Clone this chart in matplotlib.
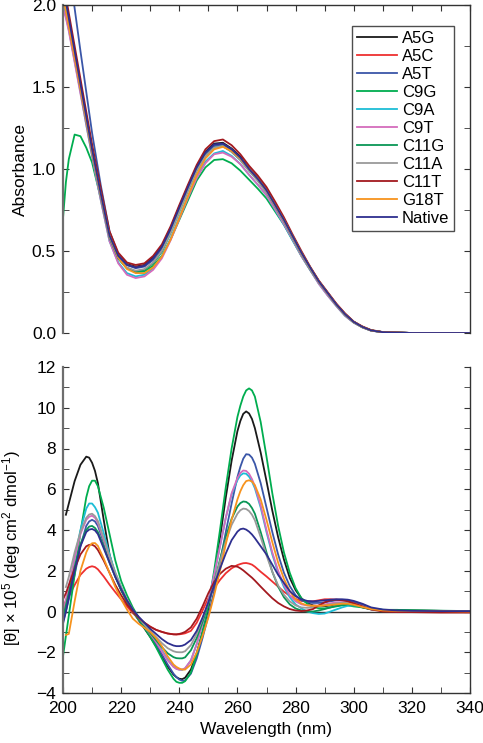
import numpy as np
import matplotlib
matplotlib.use("Agg")
import matplotlib.pyplot as plt
from matplotlib.ticker import MultipleLocator, FormatStrFormatter

plt.rcParams['font.family'] = ['Liberation Sans', 'DejaVu Sans']
plt.rcParams['mathtext.fontset'] = 'custom'
plt.rcParams['mathtext.rm'] = 'Liberation Sans'
plt.rcParams['mathtext.it'] = 'Liberation Sans:italic'

names = ['A5G', 'A5C', 'A5T', 'C9G', 'C9A', 'C9T', 'C11G', 'C11A', 'C11T', 'G18T', 'Native']
colors = ['#1a1a1a', '#ee3030', '#3a56a8', '#00ad4f', '#1cbdd6', '#d46cbc',
          '#0a9656', '#9a9a9a', '#a3191f', '#f7931e', '#2e2f8f']

# absorbance spectra
wl_abs = [200, 201, 202, 204, 206, 208, 210, 213, 216, 219, 222, 225, 228, 231, 234, 237, 240,
          243, 246, 249, 252, 255, 258, 261, 264, 267, 270, 273, 276, 279, 282, 285, 288, 291,
          294, 297, 300, 303, 306, 310, 320, 330, 340]

abs_A5G = [2.12, 2.02, 1.92, 1.72, 1.52, 1.32, 1.13, 0.86, 0.60, 0.475, 0.42, 0.405, 0.415, 0.46,
           0.53, 0.64, 0.77, 0.895, 1.015, 1.105, 1.155, 1.16, 1.125, 1.075, 1.005, 0.945, 0.875,
           0.785, 0.69, 0.59, 0.49, 0.40, 0.315, 0.245, 0.175, 0.115, 0.068, 0.037, 0.016, 0.005,
           0.0, 0.0, 0.0]
abs_A5C = [2.1, 2.0, 1.9, 1.71, 1.51, 1.31, 1.12, 0.85, 0.595, 0.47, 0.415, 0.40, 0.41, 0.45,
           0.52, 0.63, 0.76, 0.885, 1.005, 1.095, 1.145, 1.15, 1.115, 1.065, 1.0, 0.94, 0.87,
           0.78, 0.685, 0.585, 0.485, 0.395, 0.31, 0.24, 0.17, 0.11, 0.065, 0.035, 0.015, 0.005,
           0.0, 0.0, 0.0]
abs_A5T = [2.5, 2.38, 2.25, 1.98, 1.72, 1.47, 1.22, 0.9, 0.62, 0.48, 0.415, 0.395, 0.405, 0.445,
           0.515, 0.625, 0.755, 0.88, 1.0, 1.09, 1.14, 1.15, 1.12, 1.065, 1.0, 0.94, 0.87, 0.78,
           0.69, 0.59, 0.49, 0.40, 0.315, 0.245, 0.175, 0.115, 0.068, 0.037, 0.016, 0.005,
           0.0, 0.0, 0.0]
abs_C9G = [0.7, 0.92, 1.06, 1.21, 1.2, 1.13, 1.04, 0.82, 0.58, 0.455, 0.395, 0.37, 0.375, 0.41,
           0.47, 0.57, 0.69, 0.81, 0.93, 1.01, 1.055, 1.06, 1.035, 0.99, 0.935, 0.88, 0.82, 0.74,
           0.66, 0.565, 0.47, 0.385, 0.305, 0.235, 0.17, 0.11, 0.068, 0.037, 0.016, 0.005,
           0.0, 0.0, 0.0]
abs_C9A = [2.0, 1.93, 1.85, 1.66, 1.47, 1.27, 1.08, 0.81, 0.56, 0.43, 0.365, 0.345, 0.355, 0.395,
           0.465, 0.575, 0.705, 0.835, 0.955, 1.045, 1.095, 1.11, 1.08, 1.03, 0.965, 0.905, 0.84,
           0.75, 0.66, 0.565, 0.47, 0.385, 0.3, 0.23, 0.165, 0.105, 0.063, 0.034, 0.014, 0.005,
           0.0, 0.0, 0.0]
abs_C9T = [1.98, 1.92, 1.84, 1.65, 1.46, 1.27, 1.08, 0.81, 0.56, 0.425, 0.355, 0.335, 0.345,
           0.385, 0.455, 0.565, 0.695, 0.825, 0.945, 1.035, 1.09, 1.10, 1.075, 1.03, 0.965,
           0.905, 0.84, 0.755, 0.665, 0.57, 0.47, 0.385, 0.3, 0.23, 0.165, 0.105, 0.063, 0.034,
           0.014, 0.005, 0.0, 0.0, 0.0]
abs_C11G = [2.08, 1.98, 1.88, 1.69, 1.49, 1.29, 1.1, 0.83, 0.58, 0.455, 0.395, 0.375, 0.385,
            0.425, 0.495, 0.61, 0.74, 0.87, 0.99, 1.08, 1.13, 1.14, 1.105, 1.055, 0.99, 0.93,
            0.86, 0.77, 0.68, 0.58, 0.48, 0.39, 0.31, 0.24, 0.17, 0.11, 0.065, 0.035, 0.015,
            0.005, 0.0, 0.0, 0.0]
abs_C11A = [2.08, 1.98, 1.88, 1.69, 1.49, 1.29, 1.1, 0.83, 0.585, 0.46, 0.4, 0.38, 0.39, 0.43,
            0.5, 0.61, 0.74, 0.87, 0.99, 1.08, 1.13, 1.14, 1.105, 1.055, 0.99, 0.93, 0.86, 0.77,
            0.68, 0.58, 0.48, 0.39, 0.31, 0.24, 0.17, 0.11, 0.065, 0.035, 0.015, 0.005,
            0.0, 0.0, 0.0]
abs_C11T = [2.15, 2.05, 1.95, 1.75, 1.55, 1.35, 1.15, 0.88, 0.62, 0.49, 0.43, 0.415, 0.425, 0.47,
            0.54, 0.65, 0.78, 0.905, 1.025, 1.12, 1.17, 1.18, 1.145, 1.09, 1.02, 0.96, 0.89, 0.80,
            0.705, 0.60, 0.50, 0.405, 0.32, 0.25, 0.18, 0.12, 0.07, 0.04, 0.018, 0.006,
            0.0, 0.0, 0.0]
abs_G18T = [2.05, 1.96, 1.87, 1.68, 1.49, 1.3, 1.11, 0.845, 0.595, 0.46, 0.39, 0.365, 0.365, 0.4,
            0.465, 0.57, 0.7, 0.835, 0.965, 1.065, 1.12, 1.135, 1.11, 1.065, 1.0, 0.94, 0.87,
            0.78, 0.69, 0.59, 0.49, 0.40, 0.315, 0.245, 0.175, 0.115, 0.068, 0.037, 0.016, 0.005,
            0.0, 0.0, 0.0]
abs_Native = [2.12, 2.02, 1.92, 1.72, 1.52, 1.32, 1.12, 0.85, 0.595, 0.47, 0.415, 0.40, 0.41,
              0.455, 0.525, 0.635, 0.765, 0.89, 1.01, 1.10, 1.15, 1.155, 1.12, 1.07, 1.0, 0.94,
              0.87, 0.78, 0.69, 0.59, 0.49, 0.40, 0.315, 0.245, 0.175, 0.115, 0.068, 0.037,
              0.016, 0.005, 0.0, 0.0, 0.0]

# CD spectra, [theta] x 10^5
wl_cd = [200, 201, 202, 204, 206, 208, 209, 210, 211, 212,
         214, 216, 218, 220, 222, 224, 226, 228, 230, 232, 234, 236, 238,
         239, 240, 241, 242,
         244, 246, 248, 250, 252, 254, 256, 258, 260,
         261, 262, 263, 264, 265, 266,
         268, 270, 272, 274, 276, 278, 280, 282, 284, 286, 288, 290, 292, 294, 296, 298, 300,
         303, 306, 310, 315, 320, 330, 340]

cd_A5G = [np.nan, 4.75, 5.3, 6.4, 7.2, 7.6, 7.55, 7.3, 6.9, 6.3,
          4.5, 2.8, 1.75, 1.05, 0.5, 0.02, -0.42, -0.83, -1.25, -1.7, -2.2, -2.7, -3.1,
          -3.22, -3.3, -3.32, -3.25,
          -2.85, -2.05, -1.0, 0.15, 1.75, 3.6, 5.6, 7.4, 8.85,
          9.35, 9.7, 9.82, 9.72, 9.45, 9.0,
          7.8, 6.4, 4.95, 3.65, 2.55, 1.65, 1.05, 0.65, 0.42, 0.3, 0.26, 0.26, 0.3, 0.36, 0.4,
          0.4, 0.35,
          0.2, 0.1, 0.05, 0.05, 0.05, 0.03, 0.02]
cd_A5C = [0.3, 0.5, 0.75, 1.3, 1.8, 2.1, 2.18, 2.22, 2.18, 2.07,
          1.72, 1.32, 0.95, 0.6, 0.25, -0.08, -0.35, -0.55, -0.74, -0.9, -1.0, -1.08, -1.12,
          -1.13, -1.12, -1.1, -1.07,
          -0.95, -0.55, 0.05, 0.65, 1.15, 1.55, 1.88, 2.12, 2.28,
          2.33, 2.37, 2.38, 2.35, 2.3, 2.2,
          1.95, 1.72, 1.47, 1.22, 0.97, 0.77, 0.62, 0.52, 0.48, 0.5, 0.55, 0.6, 0.6, 0.58, 0.57,
          0.55, 0.48,
          0.35, 0.15, 0.05, 0.02, 0.0, 0.0, -0.02]
cd_A5T = [-0.5, 0.0, 0.6, 1.8, 3.2, 4.2, 4.42, 4.5, 4.42, 4.2,
          3.4, 2.5, 1.7, 1.1, 0.5, 0.05, -0.35, -0.75, -1.15, -1.6, -2.1, -2.6, -3.05,
          -3.22, -3.34, -3.4, -3.38,
          -3.05, -2.3, -1.3, -0.2, 1.0, 2.4, 3.9, 5.3, 6.6,
          7.1, 7.5, 7.72, 7.7, 7.55, 7.25,
          6.3, 5.1, 3.9, 2.8, 1.9, 1.25, 0.8, 0.55, 0.45, 0.42, 0.42, 0.45, 0.5, 0.55, 0.55,
          0.55, 0.45,
          0.3, 0.15, 0.05, 0.03, 0.02, 0.02, 0.02]
cd_C9G = [-2.2, -1.2, -0.2, 1.8, 3.9, 5.6, 6.15, 6.42, 6.42, 6.15,
          5.1, 3.8, 2.5, 1.5, 0.8, 0.2, -0.3, -0.8, -1.25, -1.75, -2.3, -2.85, -3.3,
          -3.45, -3.5, -3.5, -3.42,
          -3.0, -2.1, -1.0, 0.3, 2.0, 4.0, 6.1, 8.0, 9.55,
          10.1, 10.55, 10.85, 10.95, 10.85, 10.55,
          9.3, 7.6, 5.8, 4.2, 2.9, 1.9, 1.15, 0.65, 0.38, 0.22, 0.16, 0.15, 0.2, 0.25, 0.3,
          0.3, 0.25,
          0.2, 0.12, 0.08, 0.08, 0.05, 0.03, 0.02]
cd_C9A = [-0.4, 0.3, 1.0, 2.6, 4.0, 5.05, 5.3, 5.3, 5.12, 4.85,
          3.85, 2.8, 1.9, 1.2, 0.55, 0.05, -0.35, -0.7, -1.05, -1.45, -1.9, -2.35, -2.7,
          -2.8, -2.85, -2.86, -2.8,
          -2.4, -1.6, -0.6, 0.5, 1.8, 3.2, 4.6, 5.75, 6.45,
          6.68, 6.78, 6.76, 6.62, 6.38, 6.05,
          5.1, 3.9, 2.8, 1.9, 1.2, 0.7, 0.35, 0.15, 0.0, -0.08, -0.12, -0.1, 0.0, 0.1, 0.2,
          0.28, 0.3,
          0.25, 0.15, 0.08, 0.05, 0.03, 0.02, 0.02]
cd_C9T = [0.0, 0.6, 1.2, 2.6, 3.8, 4.5, 4.65, 4.7, 4.6, 4.35,
          3.5, 2.6, 1.8, 1.1, 0.5, 0.0, -0.4, -0.75, -1.1, -1.5, -1.95, -2.4, -2.72,
          -2.82, -2.86, -2.85, -2.78,
          -2.4, -1.6, -0.6, 0.5, 1.8, 3.2, 4.6, 5.8, 6.55,
          6.8, 6.92, 6.9, 6.76, 6.5, 6.15,
          5.2, 4.0, 2.9, 2.0, 1.3, 0.8, 0.5, 0.35, 0.3, 0.28, 0.3, 0.35, 0.4, 0.45, 0.45,
          0.45, 0.38,
          0.25, 0.12, 0.05, 0.03, 0.02, 0.02, 0.02]
cd_C11G = [-0.3, 0.3, 0.9, 2.2, 3.3, 4.0, 4.17, 4.2, 4.1, 3.9,
           3.2, 2.4, 1.7, 1.05, 0.5, 0.0, -0.4, -0.75, -1.05, -1.4, -1.75, -2.05, -2.24,
           -2.29, -2.3, -2.3, -2.25,
           -1.9, -1.3, -0.5, 0.35, 1.4, 2.55, 3.65, 4.55, 5.15,
           5.32, 5.4, 5.38, 5.28, 5.08, 4.8,
           3.9, 2.9, 1.95, 1.22, 0.7, 0.35, 0.15, 0.05, 0.0, 0.0, 0.05, 0.12, 0.2, 0.28, 0.32,
           0.35, 0.32,
           0.22, 0.12, 0.08, 0.08, 0.06, 0.04, 0.02]
cd_C11A = [np.nan, 1.2, 1.7, 2.9, 3.9, 4.6, 4.76, 4.8, 4.68, 4.45,
           3.6, 2.7, 1.9, 1.2, 0.6, 0.1, -0.3, -0.65, -0.95, -1.25, -1.55, -1.8, -1.95,
           -1.99, -2.0, -2.0, -1.95,
           -1.65, -1.1, -0.35, 0.45, 1.4, 2.45, 3.45, 4.25, 4.8,
           4.97, 5.05, 5.03, 4.93, 4.75, 4.48,
           3.65, 2.75, 1.95, 1.28, 0.82, 0.5, 0.3, 0.2, 0.18, 0.2, 0.25, 0.3, 0.35, 0.4, 0.42,
           0.42, 0.38,
           0.25, 0.12, 0.05, 0.03, 0.02, 0.02, 0.02]
cd_C11T = [0.6, 0.9, 1.3, 2.1, 2.8, 3.2, 3.27, 3.28, 3.2, 3.02,
           2.5, 1.9, 1.3, 0.8, 0.35, 0.0, -0.3, -0.55, -0.75, -0.9, -1.0, -1.08, -1.12,
           -1.12, -1.1, -1.06, -1.0,
           -0.78, -0.35, 0.25, 0.9, 1.45, 1.85, 2.1, 2.24, 2.2,
           2.12, 2.02, 1.9, 1.78, 1.66, 1.52,
           1.22, 0.93, 0.65, 0.42, 0.25, 0.12, 0.05, 0.02, 0.05, 0.12, 0.3, 0.45, 0.55, 0.58,
           0.55, 0.5, 0.4,
           0.25, 0.1, 0.0, -0.03, -0.03, -0.05, -0.05]
cd_G18T = [np.nan, -1.15, -1.1, 0.5, 2.0, 2.9, 3.2, 3.35, 3.36, 3.22,
           2.6, 1.9, 1.2, 0.6, 0.1, -0.35, -0.6, -0.8, -1.0, -1.3, -1.7, -2.2, -2.6,
           -2.72, -2.8, -2.85, -2.85,
           -2.6, -2.0, -1.2, -0.3, 0.8, 2.0, 3.3, 4.5, 5.5,
           5.9, 6.2, 6.4, 6.44, 6.38, 6.2,
           5.5, 4.5, 3.4, 2.4, 1.6, 1.0, 0.6, 0.4, 0.3, 0.28, 0.28, 0.3, 0.32, 0.35, 0.38,
           0.38, 0.33,
           0.22, 0.12, 0.05, 0.03, 0.02, 0.02, 0.0]
cd_Native = [-0.6, 0.0, 0.7, 2.0, 3.2, 3.9, 4.02, 4.05, 3.98, 3.8,
             3.1, 2.4, 1.7, 1.1, 0.55, 0.1, -0.25, -0.55, -0.85, -1.1, -1.35, -1.55, -1.67,
             -1.7, -1.7, -1.68, -1.62,
             -1.4, -0.95, -0.3, 0.45, 1.3, 2.1, 2.85, 3.5, 3.92,
             4.04, 4.07, 4.02, 3.92, 3.78, 3.6,
             3.2, 2.8, 2.3, 1.8, 1.4, 1.0, 0.75, 0.6, 0.52, 0.5, 0.52, 0.55, 0.58, 0.6, 0.6,
             0.58, 0.52,
             0.38, 0.2, 0.1, 0.05, 0.03, 0.02, 0.02]

abs_all = [abs_A5G, abs_A5C, abs_A5T, abs_C9G, abs_C9A, abs_C9T, abs_C11G, abs_C11A, abs_C11T,
           abs_G18T, abs_Native]
cd_all = [cd_A5G, cd_A5C, cd_A5T, cd_C9G, cd_C9A, cd_C9T, cd_C11G, cd_C11A, cd_C11T, cd_G18T,
          cd_Native]

W, H = 483, 743
fig = plt.figure(figsize=(W / 100, H / 100), dpi=100)
L, R = 63 / W, 470 / W
ax1 = fig.add_axes([L, 1 - 333 / H, R - L, 328 / H])
ax2 = fig.add_axes([L, 1 - 693 / H, R - L, 326 / H])

lw = 1.3
for i in range(len(names)):
    ax1.plot(wl_abs, abs_all[i], color=colors[i], lw=lw, label=names[i])
    ax2.plot(wl_cd, cd_all[i], color=colors[i], lw=lw)

ax2.axhline(0, color='#333333', lw=1.0, zorder=0)

spine_dark = '#333333'
spine_grey = '#6e6e6e'

# top panel
ax1.set_xlim(200, 340)
ax1.set_ylim(0, 2.0)
ax1.spines['bottom'].set_visible(False)
ax1.spines['left'].set_color(spine_grey)
ax1.spines['left'].set_linewidth(1.6)
for s in ['top', 'right']:
    ax1.spines[s].set_color(spine_dark)
    ax1.spines[s].set_linewidth(1.0)
ax1.xaxis.set_major_locator(MultipleLocator(10))
ax1.tick_params(axis='x', which='both', bottom=False, top=True, labelbottom=False,
                direction='in', length=4, color=spine_dark)
ax1.yaxis.set_major_locator(MultipleLocator(0.5))
ax1.yaxis.set_minor_locator(MultipleLocator(0.25))
ax1.yaxis.set_major_formatter(FormatStrFormatter('%.1f'))
ax1.tick_params(axis='y', which='both', left=True, right=True, direction='in',
                length=4, color=spine_dark, labelsize=12.5, pad=5)
ax1.set_ylabel('Absorbance', fontsize=12.5)
ax1.yaxis.set_label_coords(-0.085, 0.5)

leg = ax1.legend(loc='upper right', bbox_to_anchor=(0.9607, 0.936), borderaxespad=0,
                 fontsize=12, frameon=True, fancybox=False, handlelength=2.35,
                 handletextpad=0.3, labelspacing=0.18, borderpad=0.3)
leg.get_frame().set_edgecolor('#222222')
leg.get_frame().set_linewidth(1.0)

# bottom panel
ax2.set_xlim(200, 340)
ax2.set_ylim(-4, 12)
ax2.spines['top'].set_visible(False)
ax2.spines['left'].set_color(spine_grey)
ax2.spines['left'].set_linewidth(1.6)
for s in ['bottom', 'right']:
    ax2.spines[s].set_color(spine_dark)
    ax2.spines[s].set_linewidth(1.0)
ax2.xaxis.set_major_locator(MultipleLocator(20))
ax2.xaxis.set_minor_locator(MultipleLocator(10))
ax2.tick_params(axis='x', which='both', bottom=True, top=False, direction='in',
                length=4, color=spine_dark, labelsize=12.5, pad=6)
ax2.yaxis.set_major_locator(MultipleLocator(2))
ax2.yaxis.set_minor_locator(MultipleLocator(1))
ax2.tick_params(axis='y', which='both', left=True, right=True, direction='in',
                length=4, color=spine_dark, labelsize=12.5, pad=5)
ax2.set_xlabel('Wavelength (nm)', fontsize=12.5, labelpad=4)
ax2.set_ylabel('[θ] × 10$^5$ (deg cm$^2$ dmol$^{-1}$)', fontsize=12)
ax2.yaxis.set_label_coords(-0.098, 0.445)

fig.savefig('out.png', dpi=100)
